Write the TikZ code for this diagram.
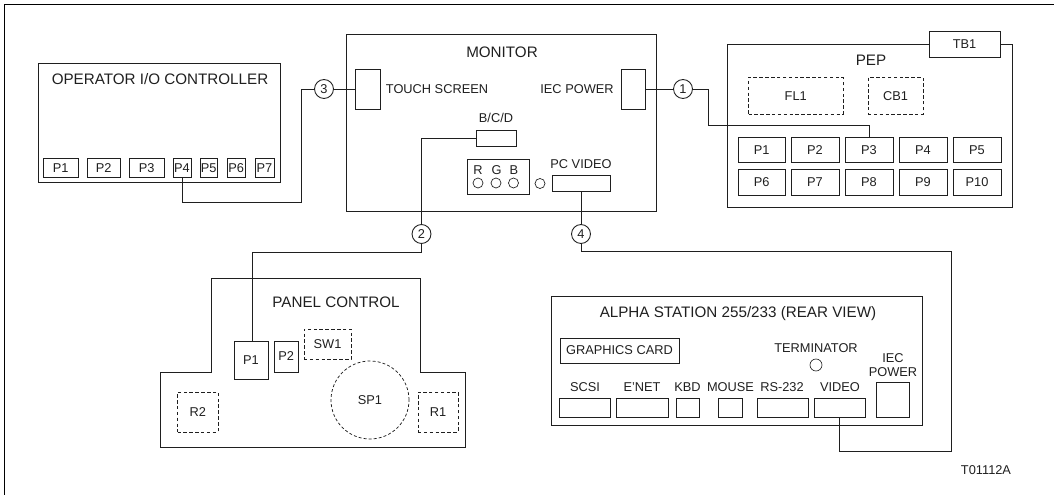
\documentclass[tikz,border=0pt]{standalone}
\usepackage{fontspec}
\setmainfont{Liberation Sans}
\newcommand{\bx}[6][boxed]{%
  \pgfmathsetmacro{\cxx}{(#3+#5)/2}\pgfmathsetmacro{\cyy}{(#4+#6)/2}%
  \pgfmathsetmacro{\wdd}{(#5-#3)*0.75}\pgfmathsetmacro{\htt}{(#6-#4)*0.75}%
  \node[#1,minimum width=\wdd pt,minimum height=\htt pt] (#2) at (\cxx,\cyy)}
\tikzset{
  boxed/.style={draw=ink,line width=0.65pt,inner sep=0pt,outer sep=0pt,font=\fontsize{9.6}{10}\selectfont,text=ink},
  dashbox/.style={boxed,dash pattern=on 2.6pt off 1.8pt,line width=0.6pt},
  ttl/.style={inner sep=0pt,font=\fontsize{11.4}{12}\selectfont,text=ink},
  lab/.style={inner sep=0pt,font=\fontsize{9.6}{10.5}\selectfont,text=ink,align=center},
  num/.style={circle,draw=ink,line width=0.65pt,fill=white,minimum size=14.2pt,inner sep=0pt,outer sep=0pt,font=\fontsize{9.6}{10}\selectfont,text=ink},
  led/.style={circle,draw=ink,line width=0.5pt,minimum size=7.5pt,inner sep=0pt,outer sep=0pt},
  wire/.style={draw=ink,line width=0.65pt},
  outline/.style={draw=ink,line width=0.65pt}
}
\definecolor{ink}{gray}{0.12}
\begin{document}
\begin{tikzpicture}[x=0.75pt,y=-0.75pt]
\useasboundingbox (0,0) rectangle (1054,495);
\draw[line width=0.7pt,draw=black] (4.5,495) -- (4.5,4.5) -- (1054,4.5);

% Operator I/O controller
\bx{oper}{38.5}{63.5}{280}{182.5} {};
\node[ttl] (operT) at (160,79.5) {OPERATOR I/O CONTROLLER};
\bx{opA}{43.5}{158}{78}{177.5} {P1};
\bx{opB}{87}{158}{120.5}{177.5} {P2};
\bx{opC}{129.5}{158}{164}{177.5} {P3};
\bx{opD}{173}{158}{191}{177.5} {P4};
\bx{opE}{200}{158}{217.5}{177.5} {P5};
\bx{opF}{227.5}{158}{245}{177.5} {P6};
\bx{opG}{255}{158}{274}{177.5} {P7};

% Monitor
\bx{mon}{346}{34.5}{656}{211} {};
\node[ttl] (monT) at (502,52) {MONITOR};
\bx{touch}{355.5}{69}{380.5}{109} {};
\node[lab] (touchT) at (437,89) {TOUCH SCREEN};
\bx{iec}{621}{69}{645.5}{109} {};
\node[lab] (iecT) at (577,89) {IEC POWER};
\node[lab] (bcdT) at (496,118) {B/C/D};
\bx{bcd}{476}{130}{516}{146} {};
\bx{rgb}{467}{159}{529}{194} {};
\node[lab] (rT) at (478,170) {R};
\node[lab] (gT) at (496.5,170) {G};
\node[lab] (bT) at (514,170) {B};
\node[led] (rL) at (478,183) {};
\node[led] (gL) at (496,183) {};
\node[led] (bL) at (513.5,183) {};
\node[led] (xL) at (540,183.5) {};
\node[lab] (pcT) at (581,164) {PC VIDEO};
\bx{pcv}{552}{175}{610}{191.5} {};

% PEP
\bx{pep}{727}{44}{1012}{207} {};
\bx[boxed,fill=white]{tb}{929}{31.5}{1000}{57} {TB1};
\node[ttl] (pepT) at (871,60.5) {PEP};
\bx[dashbox]{fl}{748.5}{77.5}{843}{114} {FL1};
\bx[dashbox]{cb}{868}{77.5}{923}{114} {CB1};
\bx{pa}{738}{137}{785.5}{162.5} {P1};
\bx{pb}{791}{137}{839}{162.5} {P2};
\bx{pc}{845}{137}{893}{162.5} {P3};
\bx{pd}{899}{137}{947}{162.5} {P4};
\bx{pe}{953}{137}{1001}{162.5} {P5};
\bx{pf}{738}{169}{785.5}{195} {P6};
\bx{pg}{791}{169}{839}{195} {P7};
\bx{ph}{845}{169}{893}{195} {P8};
\bx{pi}{899}{169}{947}{195} {P9};
\bx{pj}{953}{169}{1001}{195} {P10};

% Panel control
\draw[outline] (160.5,447) -- (160.5,372) -- (211,372) -- (211,278) -- (420.5,278) -- (420.5,372) -- (465.5,372) -- (465.5,447) -- cycle;
\node[ttl] (panT) at (336,302) {PANEL CONTROL};
\bx{ctA}{234}{341}{268}{379} {P1};
\bx{ctB}{274.5}{341}{298}{372} {P2};
\bx[dashbox]{sw}{304}{329}{351}{359.5} {SW1};
\node[boxed,dash pattern=on 2.2pt off 1.6pt,line width=0.55pt,circle,minimum size=58.5pt] (sp) at (370,400) {SP1};
\bx[dashbox]{rb}{177.5}{392}{218}{432} {R2};
\bx[dashbox]{ra}{418}{392}{458}{432} {R1};

% Alpha station
\bx{alpha}{551.5}{296}{922}{425.5} {};
\node[ttl] (alT) at (738,314) {ALPHA STATION 255/233 (REAR VIEW)};
\bx{gfx}{560}{338}{679}{363} {GRAPHICS CARD};
\node[lab] (termT) at (816,348) {TERMINATOR};
\node[led,minimum size=9pt] (termL) at (816,365) {};
\node[lab] (ipT) at (893,365) {IEC\\POWER};
\bx{ip}{876}{382}{909}{417.5} {};
\bx{scsi}{559}{398.5}{610}{417.5} {};
\bx{enet}{616.5}{398.5}{668}{417.5} {};
\bx{kbd}{676}{398.5}{699}{417.5} {};
\bx{mouse}{718}{398.5}{742}{417.5} {};
\bx{rs}{757}{398.5}{808}{417.5} {};
\bx{vid}{814}{398.5}{865}{417.5} {};
\node[lab] (scsiT) at (585,387) {SCSI};
\node[lab] (enetT) at (642,387) {E'NET};
\node[lab] (kbdT) at (687.5,387) {KBD};
\node[lab] (mouseT) at (730.5,387) {MOUSE};
\node[lab] (rsT) at (782,387) {RS-232};
\node[lab] (vidT) at (840,387) {VIDEO};
\node[lab] (code) at (986,470) {T01112A};

% Numbered circles
\node[num] (cA) at (683,89) {1};
\node[num] (cB) at (421.5,234) {2};
\node[num] (cC) at (324,89) {3};
\node[num] (cD) at (581,234) {4};

% Wires
\coordinate (w3) at (301.5,202.5);
\draw[wire] (opD.south) |- (w3) |- (cC.west);
\draw[wire] (cC.east) -- (touch.west);
\coordinate (w1a) at (708,125);
\draw[wire] (iec.east) -- (cA.west);
\draw[wire] (cA.east) -| (w1a) -| (pc.north);
\draw[wire] (bcd.west) -| (cB.north);
\coordinate (w2) at (252,252);
\draw[wire] (cB.south) |- (w2) -- (w2 |- ctA.north);
\draw[wire] (pcv.south -| cD) -- (cD.north);
\coordinate (w4a) at (951,251);
\coordinate (w4b) at (951,451);
\draw[wire] (cD.south) |- (w4a) -- (w4b) -| (vid.south);
\end{tikzpicture}
\end{document}
